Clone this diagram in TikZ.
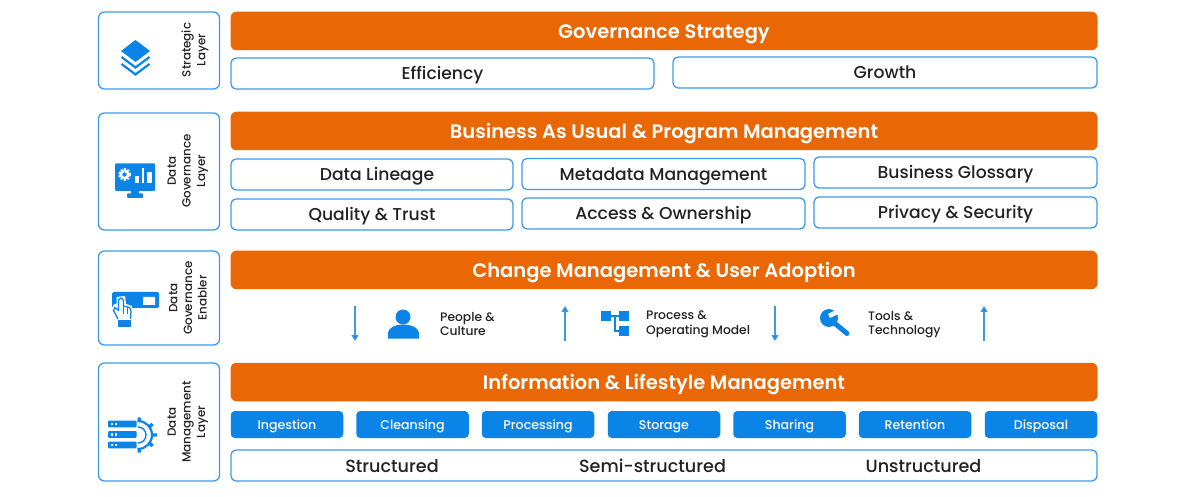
\documentclass[tikz,border=0pt]{standalone}
\usepackage{fontspec}
\setmainfont{Poppins Medium}
\newfontfamily\semi{Poppins SemiBold}
\definecolor{org}{HTML}{E96704}
\definecolor{blu}{HTML}{0A84E6}
\definecolor{edge}{HTML}{3C9AE8}
\definecolor{ink}{HTML}{222222}
\usetikzlibrary{arrows.meta}
\tikzset{
  sidebox/.style={draw=edge,line width=1.3pt,rounded corners=6pt,minimum width=121pt,inner sep=0pt},
  orangebar/.style={fill=org,rounded corners=6pt,minimum width=867pt,minimum height=38.5pt,inner sep=0pt,text=white,text height=19pt,text depth=4pt,font=\semi\fontsize{19.5}{20}\selectfont},
  outline/.style={draw=edge,line width=1.3pt,rounded corners=5pt,minimum height=31pt,inner sep=0pt,text=ink,text height=16.5pt,text depth=4pt,font=\fontsize{17.2}{18}\selectfont},
  plainlabel/.style={inner sep=0pt,text=ink,text height=18.5pt,text depth=4pt,font=\fontsize{17.6}{18}\selectfont},
  bluebtn/.style={fill=blu,rounded corners=4pt,minimum width=112.5pt,minimum height=27pt,inner sep=0pt,text=white,text height=12pt,text depth=3pt,font=\fontsize{12.6}{14}\selectfont},
  sidetext/.style={rotate=90,align=center,text=ink,font=\fontsize{11.9}{14.6}\selectfont,inner sep=0pt},
  smalltext/.style={anchor=west,align=left,text=ink,font=\fontsize{12.3}{14.5}\selectfont,inner sep=0pt},
  flow/.style={draw=edge,line width=1.2pt,-{Triangle[length=6pt,width=7pt,fill=blu]}},
}
\begin{document}
\begin{tikzpicture}[x=1pt,y=-1pt]
\useasboundingbox (0,0) rectangle (1195,497);
% side boxes
\node[sidebox,minimum height=77pt] (s1) at (159,50.5) {};
\node[sidebox,minimum height=117pt] (s2) at (159,171.5) {};
\node[sidebox,minimum height=94pt] (s3) at (159,298) {};
\node[sidebox,minimum height=118pt] (s4) at (159,422) {};
\node[sidetext] (l1) at (195,50) {Strategic\\Layer};
\node[sidetext] (l2) at (188,171) {Data\\Governance\\Layer};
\node[sidetext] (l3) at (188,298) {Data\\Governance\\Enabler};
\node[sidetext] (l4) at (188,422) {Data\\Management\\Layer};
% orange bars
\node[orangebar] (o1) at (664,31) {Governance Strategy};
\node[orangebar] (o2) at (664,131) {Business As Usual \& Program Management};
\node[orangebar] (o3) at (664,270) {Change Management \& User Adoption};
\node[orangebar] (o4) at (664,382) {Information \& Lifestyle Management};
% outlines
\node[outline,minimum width=423pt] (a1) at (442.5,73.5) {Efficiency};
\node[outline,minimum width=424pt] (a2) at (885,72.5) {Growth};
\node[outline,minimum width=282pt] (b1) at (372,174.5) {\hspace*{10pt}Data Lineage};
\node[outline,minimum width=283pt] (b2) at (663.5,174) {Metadata Management};
\node[outline,minimum width=283pt] (b3) at (955.5,172.5) {Business Glossary};
\node[outline,minimum width=282pt] (b4) at (372,214.5) {Quality \& Trust};
\node[outline,minimum width=283pt] (b5) at (663.5,213.5) {Access \& Ownership};
\node[outline,minimum width=283pt] (b6) at (955.5,212.5) {Privacy \& Security};
% process buttons
\node[bluebtn] (c1) at (287,424.5) {Ingestion};
\node[bluebtn] (c2) at (412.5,424.5) {Cleansing};
\node[bluebtn] (c3) at (538,424.5) {Processing};
\node[bluebtn] (c4) at (664,424.5) {Storage};
\node[bluebtn] (c5) at (789.5,424.5) {Sharing};
\node[bluebtn] (c6) at (915,424.5) {Retention};
\node[bluebtn] (c7) at (1041,424.5) {Disposal};
% bottom
\node[outline,minimum width=866pt] (d0) at (664,465.5) {};
\node[plainlabel] (d1) at (392,465.5) {Structured};
\node[plainlabel] (d2) at (652.5,465.5) {Semi-structured};
\node[plainlabel] (d3) at (923.5,465.5) {Unstructured};
% enabler row
\node[smalltext] (e1) at (440,324) {People \&\\Culture};
\node[smalltext] (e2) at (646,324.5) {Process \&\\Operating Model};
\node[smalltext] (e3) at (868,324.5) {Tools \&\\Technology};
\coordinate (f1a) at (355,306); \coordinate (f1b) at (355,341);
\coordinate (f2a) at (565,341); \coordinate (f2b) at (565,306);
\coordinate (f3a) at (775,306); \coordinate (f3b) at (775,341);
\coordinate (f4a) at (984,341); \coordinate (f4b) at (984,306);
\draw[flow] (f1a) -- (f1b);
\draw[flow] (f2a) -- (f2b);
\draw[flow] (f3a) -- (f3b);
\draw[flow] (f4a) -- (f4b);
% layers icon
\fill[blu] (135.5,40) -- (150,51) -- (135.5,62) -- (121,51) -- cycle;
\draw[blu,line width=2.2pt] (121.5,57) -- (135.5,67.5) -- (149.5,57);
\draw[blu,line width=2.2pt] (121.5,64) -- (135.5,74.5) -- (149.5,64);
% monitor icon
\fill[blu,rounded corners=1pt] (115,163.5) rectangle (155,191);
\fill[blu] (131,191) rectangle (139,195);
\fill[blu,rounded corners=1pt] (127,193.5) rectangle (143,198);
\draw[white,line width=2pt,dash pattern=on 2pt off 1.6pt] (124.5,174.5) circle (5.6);
\fill[white] (124.5,174.5) circle (5);
\fill[blu] (124.5,174.5) circle (2.2);
\fill[white] (135,176) rectangle (139,183);
\fill[white] (141.5,168) rectangle (144,183);
\fill[white] (147,172) rectangle (152,183);
% enabler icon
\fill[blu,rounded corners=1.5pt] (112,292) rectangle (159,308);
\fill[white,rounded corners=.5pt] (143,297) rectangle (155,305);
\fill[white] (117,320) -- (111,310) -- (114,304) -- (116.5,304) -- (116.5,297) -- (125,296) -- (126,304) -- (132,306) -- (133,320) -- cycle;
\draw[blu,line width=1.3pt,line join=round] (118,319) -- (113.5,310.5) -- (115,307.5) -- (118.5,310.5) -- (118.5,300) -- (121,298) -- (123.5,300) -- (123.5,306) -- (129.5,307.5) -- (131,311) -- (130.5,319);
\draw[blu,line width=.9pt] (123.5,306) -- (123.5,314) (127,307) -- (127,314);
\fill[blu] (117.5,320) rectangle (131,327);
% data management icon
\foreach \yy in {420.5,431,441.5}{\fill[blu,rounded corners=1pt] (108,\yy) rectangle (136.5,\yy+6.8);
 \fill[white] (111,\yy+2.2) rectangle (113.2,\yy+4.6); \fill[white] (115,\yy+2.2) rectangle (117.2,\yy+4.6);}
\draw[blu,line width=1.4pt] (138,427) arc (-90:90:8);
\draw[blu,line width=2.2pt] (138,421) arc (-90:90:14);
\draw[blu,line width=3.4pt] (139.5,417.5) -- (139,422) (152.5,424) -- (149.5,427) (157,435) -- (152,435) (152.5,446) -- (149.5,443) (139.5,452.5) -- (139,448);
% person
\fill[blu] (403,317) circle (7.5);
\fill[blu] (388,338.5) -- (388,334) .. controls (388,327) and (396,324.5) .. (403,324.5) .. controls (410,324.5) and (419,327) .. (419,334) -- (419,338.5) -- cycle;
% process icon
\fill[blu] (601,311) rectangle (611,321);
\fill[blu] (619,311) rectangle (629,321);
\fill[blu] (619,326) rectangle (629,336);
\draw[blu,line width=1.4pt] (611,316) -- (619,316) (615,316) -- (615,331) -- (619,331);
% wrench
\draw[blu,line width=5pt,line cap=round] (832,321) -- (847,333.5);
\fill[blu] (829,318) circle (9);
\draw[white,line width=4.5pt] (829,316) -- (842,309.5);
\end{tikzpicture}
\end{document}
